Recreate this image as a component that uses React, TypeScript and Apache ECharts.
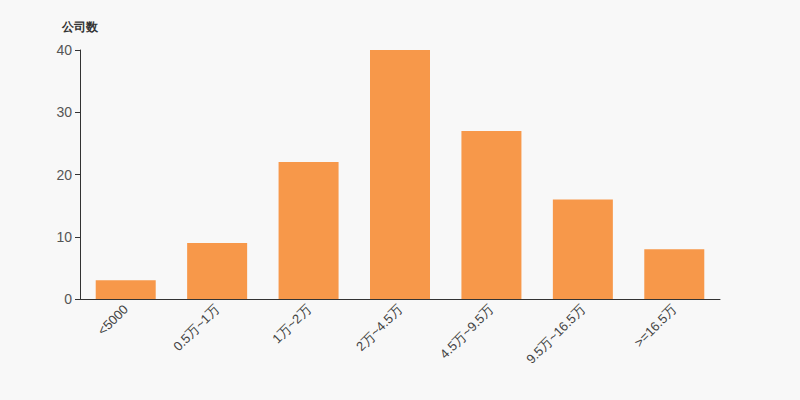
import React, { useEffect, useRef } from "react";
import * as echarts from "echarts";

const categories = ["<5000", "0.5万~1万", "1万~2万", "2万~4.5万", "4.5万~9.5万", "9.5万~16.5万", ">=16.5万"];
const companyCounts = [3, 9, 22, 40, 27, 16, 8];

export default function App() {
  const ref = useRef<HTMLDivElement>(null);
  useEffect(() => {
    if (!ref.current) return;
    const chart = echarts.init(ref.current, undefined, { renderer: "svg" });
    chart.setOption({
      animation: false,
      backgroundColor: "#f8f8f8",
      grid: { left: 80, right: 80, top: 50, bottom: 101 },
      xAxis: {
        type: "category",
        data: categories,
        axisLine: { lineStyle: { color: "#333" } },
        axisTick: { lineStyle: { color: "#333" } },
        axisLabel: { rotate: 45, color: "#444", fontSize: 13, interval: 0, margin: 8 },
      },
      yAxis: {
        type: "value",
        name: "公司数",
        nameGap: 17,
        nameTextStyle: { color: "#333", fontWeight: "bold", fontSize: 12, align: "right", padding: [0, -18, 0, 0] },
        min: 0,
        max: 40,
        interval: 10,
        splitLine: { show: false },
        axisLine: { show: true, lineStyle: { color: "#333" } },
        axisTick: { show: true, lineStyle: { color: "#333" } },
        axisLabel: { color: "#555", fontSize: 14 },
      },
      series: [
        {
          type: "bar",
          data: companyCounts,
          barWidth: 60,
          itemStyle: { color: "#f7984a" },
        },
      ],
    });
    return () => chart.dispose();
  }, []);
  return <div ref={ref} style={{ width: 800, height: 400, position: "absolute", left: 0, top: 0 }} />;
}
